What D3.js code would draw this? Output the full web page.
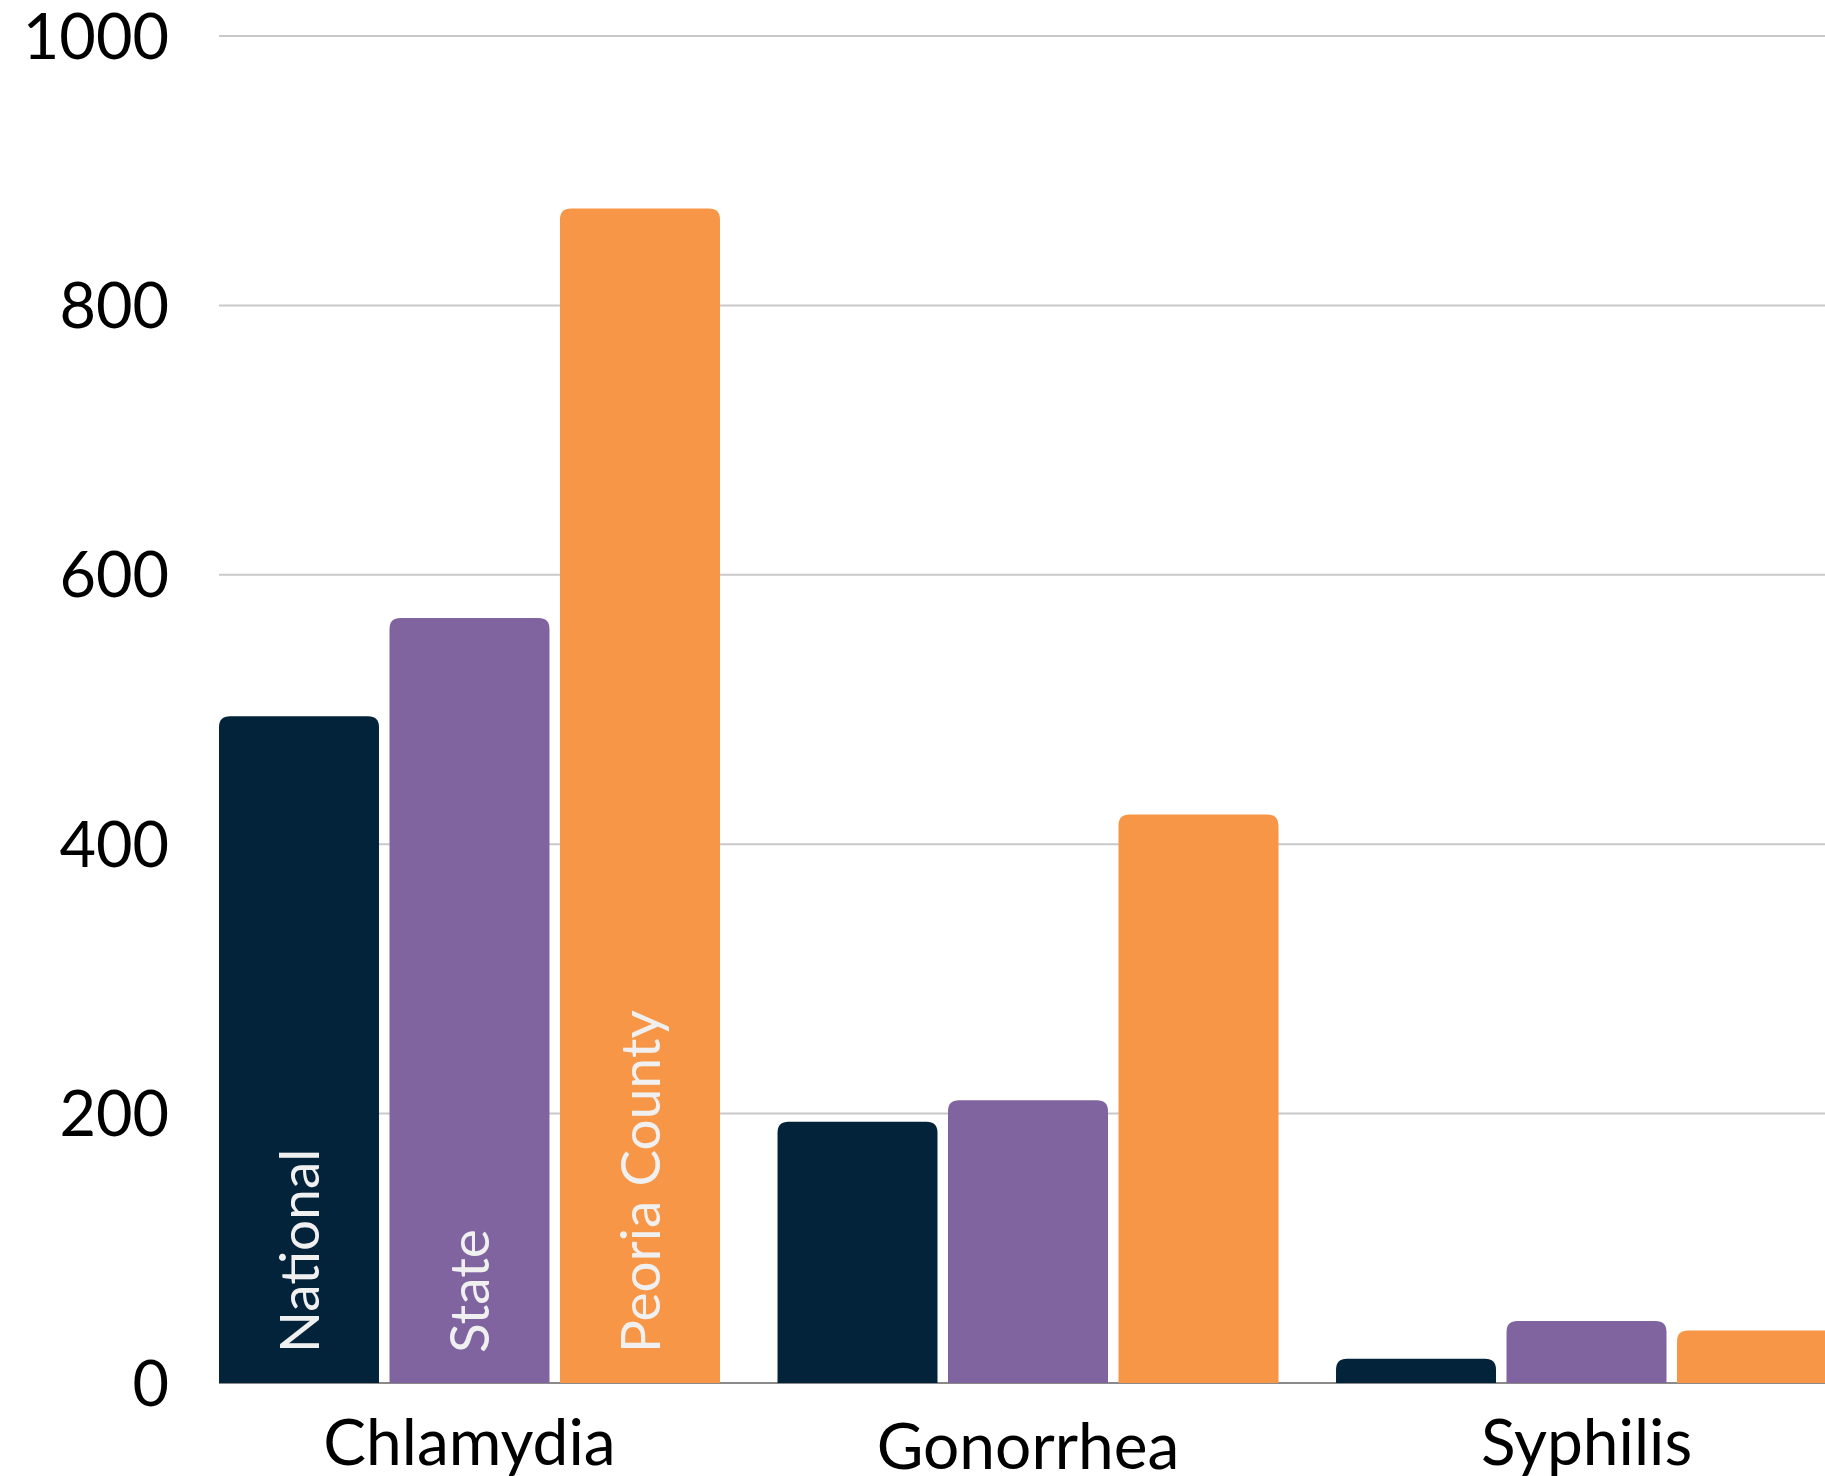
<!DOCTYPE html>
<html>
<head>
<meta charset="utf-8">
<script src="https://cdn.jsdelivr.net/npm/d3@7"></script>
<style>
  body { margin: 0; background: #fff; }
  svg { display: block; font-family: Lato, "Noto Sans", sans-serif; }
</style>
</head>
<body>
<div id="dataviz"></div>
<script>
// data (rate per 100,000)
var diseases = ["Chlamydia", "Gonorrhea", "Syphilis"];
var series = ["National", "State", "Peoria County"];
var national = [495, 194, 18];
var state = [568, 210, 46];
var peoria = [872, 422, 39];
var yTicks = [0, 200, 400, 600, 800, 1000];
var colors = ["#03233b", "#7f64a0", "#f79646"];

var width = 1825,
    height = 1476;

var svg = d3.select("#dataviz")
    .append("svg")
    .attr("width", width)
    .attr("height", height)
    .attr("viewBox", `0 0 ${width} ${height}`);

var y = d3.scaleLinear()
    .domain([0, 1000])
    .range([1383, 36]);

// groups are wider than the window, the last bar gets cut off like in the original
var x0 = d3.scaleBand()
    .domain(diseases)
    .range([219, 1837])
    .paddingInner(0.103)
    .paddingOuter(0);

var x1 = d3.scaleBand()
    .domain(series)
    .range([0, x0.bandwidth()])
    .paddingInner(0.0616);

var values = [national, state, peoria];
var rows = [];
diseases.forEach(function (d, i) {
    series.forEach(function (s, j) {
        rows.push({ disease: d, series: s, idx: j, value: values[j][i] });
    });
});

// gridlines
svg.append("g")
    .attr("class", "grid")
    .selectAll("line")
    .data(yTicks.filter(function (t) { return t > 0; }))
    .enter()
    .append("line")
    .attr("x1", 219)
    .attr("x2", width)
    .attr("y1", function (d) { return y(d); })
    .attr("y2", function (d) { return y(d); })
    .attr("stroke", "#c9c9c9")
    .attr("stroke-width", 2);

// baseline
svg.append("line")
    .attr("x1", 219)
    .attr("x2", width)
    .attr("y1", y(0))
    .attr("y2", y(0))
    .attr("stroke", "#8a8a8a")
    .attr("stroke-width", 2);

// y labels
svg.append("g")
    .selectAll("text")
    .data(yTicks)
    .enter()
    .append("text")
    .attr("x", 169)
    .attr("y", function (d) { return y(d); })
    .attr("dy", "0.36em")
    .attr("text-anchor", "end")
    .attr("font-size", 63)
    .attr("fill", "#000")
    .text(function (d) { return d; });

function topRounded(x, yTop, w, h, r) {
    r = Math.min(r, h, w / 2);
    return "M" + x + "," + (yTop + h) +
        "V" + (yTop + r) +
        "Q" + x + "," + yTop + " " + (x + r) + "," + yTop +
        "H" + (x + w - r) +
        "Q" + (x + w) + "," + yTop + " " + (x + w) + "," + (yTop + r) +
        "V" + (yTop + h) + "Z";
}

// bars
svg.append("g")
    .attr("class", "bars")
    .selectAll("path")
    .data(rows)
    .enter()
    .append("path")
    .attr("d", function (d) {
        var bx = x0(d.disease) + x1(d.series);
        return topRounded(bx, y(d.value), x1.bandwidth(), y(0) - y(d.value), 11);
    })
    .attr("fill", function (d) { return colors[d.idx]; });

// series names written up the first group of bars
svg.append("g")
    .selectAll("text")
    .data(series)
    .enter()
    .append("text")
    .attr("transform", function (d) {
        var cx = x0(diseases[0]) + x1(d) + x1.bandwidth() / 2;
        return "translate(" + cx + "," + (y(0) - 30) + ") rotate(-90)";
    })
    .attr("dy", "0.36em")
    .attr("font-size", 55)
    .attr("fill", "#f0f0f0")
    .text(function (d) { return d; });

// category labels
svg.append("g")
    .selectAll("text")
    .data(diseases)
    .enter()
    .append("text")
    .attr("x", function (d) { return x0(d) + x0.bandwidth() / 2; })
    .attr("y", function (d) { return d === "Gonorrhea" ? 1469 : 1465; })
    .attr("text-anchor", "middle")
    .attr("font-size", 64)
    .attr("fill", "#000")
    .text(function (d) { return d; });
</script>
</body>
</html>
